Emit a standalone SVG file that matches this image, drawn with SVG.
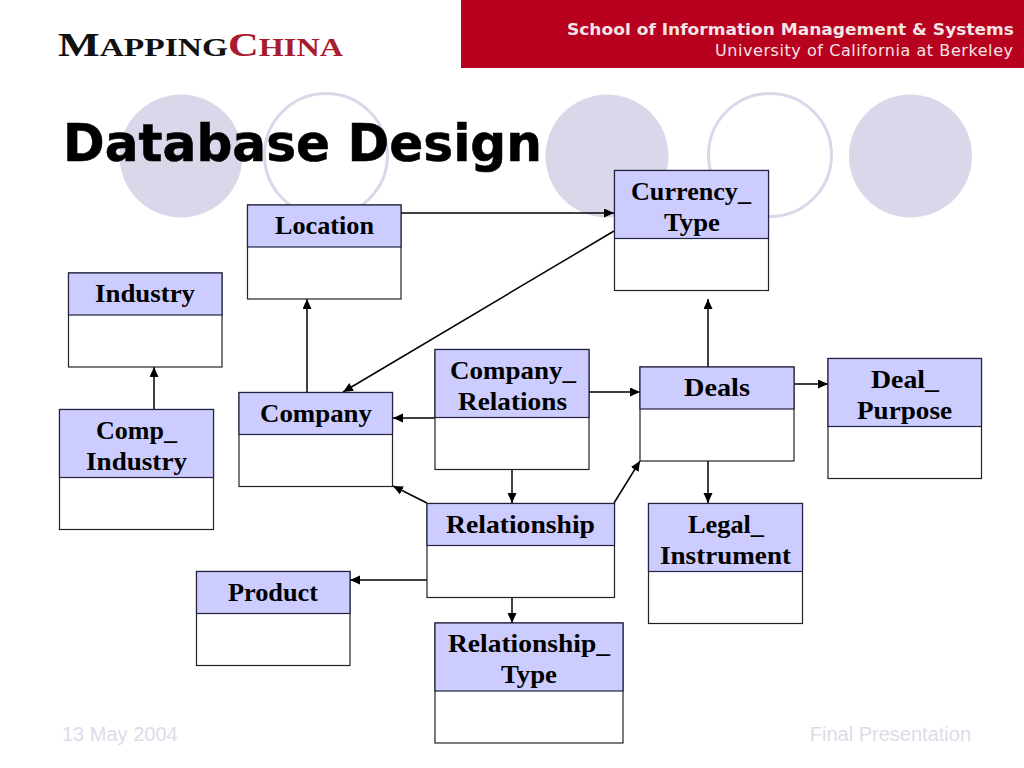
<svg xmlns="http://www.w3.org/2000/svg" width="1024" height="768" viewBox="0 0 1024 768">
<defs>
<marker id="ah" markerUnits="userSpaceOnUse" markerWidth="11" markerHeight="10" refX="10" refY="4.5" orient="auto"><path d="M0 0L10 4.5L0 9Z" fill="#000"/></marker>
</defs>
<style>
.head{fill:#ccccff;stroke:#222244;stroke-width:1.2}
.body{fill:#fff;stroke:#222;stroke-width:1.2}
.lb{font-family:"Liberation Serif",serif;font-weight:bold;font-size:26px;fill:#000;text-anchor:middle}
.c{fill:none;stroke:#000;stroke-width:1.5;marker-end:url(#ah)}
.dot{fill:#d8d8ea}
.ring{fill:none;stroke:#d8d8ea;stroke-width:3}
.foot{font-family:"Liberation Sans",sans-serif;font-size:20px;fill:#dcdce8}
</style>
<rect width="1024" height="768" fill="#fff"/>
<rect x="461" y="0" width="563" height="68" fill="#b8001f"/>
<text x="567" y="35" font-family="DejaVu Sans,sans-serif" font-weight="bold" font-size="16px" fill="#f4e4e4" textLength="447" lengthAdjust="spacingAndGlyphs">School of Information Management &amp; Systems</text>
<text x="715" y="56" font-family="DejaVu Sans,sans-serif" font-size="16px" fill="#f4e4e4" textLength="298" lengthAdjust="spacing">University of California at Berkeley</text>
<text x="58" y="55.500" font-family="Liberation Serif,serif" font-weight="bold" font-size="33px" fill="#111" textLength="170" lengthAdjust="spacingAndGlyphs">M<tspan font-size="25px">APPING</tspan></text>
<text x="228" y="55.500" font-family="Liberation Serif,serif" font-weight="bold" font-size="33px" fill="#a81c30" textLength="115" lengthAdjust="spacingAndGlyphs">C<tspan font-size="25px">HINA</tspan></text>
<circle class="dot" cx="181" cy="156" r="61.500"/>
<circle class="ring" cx="326" cy="155" r="61.500"/>
<circle class="dot" cx="607" cy="156" r="61.500"/>
<circle class="ring" cx="770" cy="155" r="61.500"/>
<circle class="dot" cx="910.500" cy="156" r="61.500"/>
<text x="63" y="161" font-family="DejaVu Sans,sans-serif" font-weight="bold" font-size="52px" fill="#000" stroke="#000" stroke-width=".6" textLength="479" lengthAdjust="spacingAndGlyphs">Database Design</text>
<text x="62" y="741" class="foot">13 May 2004</text>
<text x="971" y="741" class="foot" text-anchor="end">Final Presentation</text>
<g id="connectors">
<path class="c" d="M401 213H614"/>
<path class="c" d="M614 231L343 392"/>
<path class="c" d="M307 392V299"/>
<path class="c" d="M154 409V367"/>
<path class="c" d="M435 418H393"/>
<path class="c" d="M589 392H640"/>
<path class="c" d="M512 469V503"/>
<path class="c" d="M427 503L393 486"/>
<path class="c" d="M614 503L640 461"/>
<path class="c" d="M427 580H350"/>
<path class="c" d="M512 597V623"/>
<path class="c" d="M708 367V299"/>
<path class="c" d="M794 384H828"/>
<path class="c" d="M708 461V503"/>
</g>
<g id="location"><rect class="body" x="247.500" y="205" width="153.500" height="94"/><rect class="head" x="247.500" y="205" width="153.500" height="42"/><text class="lb" x="324.500" y="234" textLength="99" lengthAdjust="spacingAndGlyphs">Location</text></g>
<g id="currency-type"><rect class="body" x="614.500" y="170.500" width="154" height="120"/><rect class="head" x="614.500" y="170.500" width="154" height="68"/><text class="lb" x="691" y="200" textLength="120" lengthAdjust="spacingAndGlyphs">Currency_</text><text class="lb" x="692" y="231" textLength="56" lengthAdjust="spacingAndGlyphs">Type</text></g>
<g id="industry"><rect class="body" x="68.500" y="273" width="153.500" height="94"/><rect class="head" x="68.500" y="273" width="153.500" height="42"/><text class="lb" x="145" y="302" textLength="100" lengthAdjust="spacingAndGlyphs">Industry</text></g>
<g id="comp-industry"><rect class="body" x="59.500" y="409.500" width="154" height="120"/><rect class="head" x="59.500" y="409.500" width="154" height="68"/><text class="lb" x="136.500" y="439" textLength="81" lengthAdjust="spacingAndGlyphs">Comp_</text><text class="lb" x="136.500" y="470" textLength="101" lengthAdjust="spacingAndGlyphs">Industry</text></g>
<g id="company"><rect class="body" x="239" y="392.500" width="153.500" height="94"/><rect class="head" x="239" y="392.500" width="153.500" height="42"/><text class="lb" x="316" y="422" textLength="112" lengthAdjust="spacingAndGlyphs">Company</text></g>
<g id="company-relations"><rect class="body" x="435" y="349.500" width="154" height="120"/><rect class="head" x="435" y="349.500" width="154" height="68"/><text class="lb" x="513" y="379" textLength="126" lengthAdjust="spacingAndGlyphs">Company_</text><text class="lb" x="512.500" y="410" textLength="109" lengthAdjust="spacingAndGlyphs">Relations</text></g>
<g id="deals"><rect class="body" x="640" y="367" width="154" height="94"/><rect class="head" x="640" y="367" width="154" height="42"/><text class="lb" x="717" y="396" textLength="66" lengthAdjust="spacingAndGlyphs">Deals</text></g>
<g id="deal-purpose"><rect class="body" x="828" y="358.500" width="153.500" height="120"/><rect class="head" x="828" y="358.500" width="153.500" height="68"/><text class="lb" x="905" y="388" textLength="68" lengthAdjust="spacingAndGlyphs">Deal_</text><text class="lb" x="904.500" y="419" textLength="95" lengthAdjust="spacingAndGlyphs">Purpose</text></g>
<g id="relationship"><rect class="body" x="427" y="503.500" width="187.500" height="94"/><rect class="head" x="427" y="503.500" width="187.500" height="42"/><text class="lb" x="520.500" y="533" textLength="149" lengthAdjust="spacingAndGlyphs">Relationship</text></g>
<g id="legal-instrument"><rect class="body" x="648.500" y="503.500" width="154" height="120"/><rect class="head" x="648.500" y="503.500" width="154" height="68"/><text class="lb" x="726" y="533" textLength="76" lengthAdjust="spacingAndGlyphs">Legal_</text><text class="lb" x="725.500" y="564" textLength="131" lengthAdjust="spacingAndGlyphs">Instrument</text></g>
<g id="product"><rect class="body" x="196.500" y="571.500" width="153.500" height="94"/><rect class="head" x="196.500" y="571.500" width="153.500" height="42"/><text class="lb" x="273" y="601" textLength="90" lengthAdjust="spacingAndGlyphs">Product</text></g>
<g id="relationship-type"><rect class="body" x="435" y="623" width="188" height="120"/><rect class="head" x="435" y="623" width="188" height="68"/><text class="lb" x="529" y="652" textLength="162" lengthAdjust="spacingAndGlyphs">Relationship_</text><text class="lb" x="529" y="683" textLength="56" lengthAdjust="spacingAndGlyphs">Type</text></g>
</svg>
